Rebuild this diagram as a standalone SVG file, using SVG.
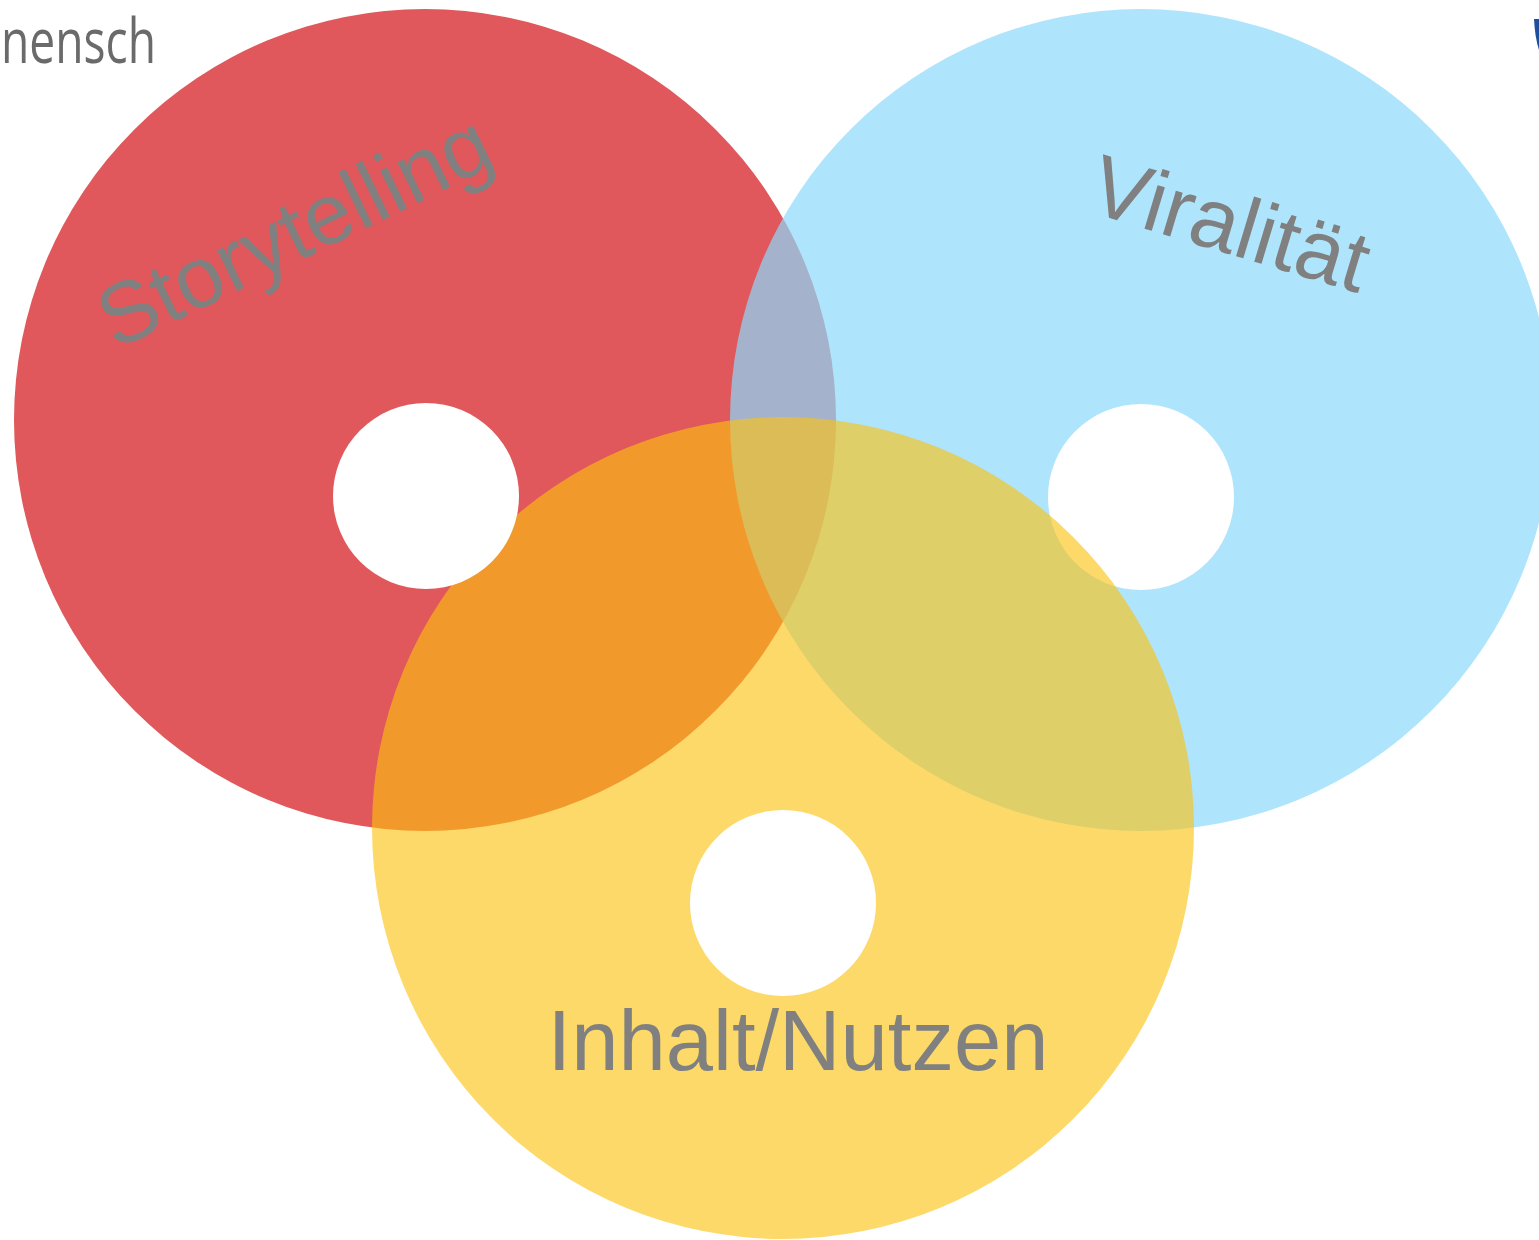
<svg xmlns="http://www.w3.org/2000/svg" width="1539" height="1240" viewBox="0 0 1539 1240">
<style>
.lbl{font-family:"Liberation Sans",Arial,sans-serif;fill:#808080;text-anchor:middle}
.hole{fill:#ffffff}
</style>
<rect width="1539" height="1240" fill="#ffffff"/>
<text x="1" y="63" font-family="Open Sans, sans-serif" font-size="63" fill="#6a6a6a" textLength="155" lengthAdjust="spacingAndGlyphs">nensch</text>
<path d="M1534,19 L1539,19 L1539,50 Q1535,38 1534,19 Z" fill="#1d4f9c"/>
<g id="storytelling">
<circle cx="425" cy="420" r="411" fill="#E0585B"/>
</g>
<g id="viralitaet">
<path d="M730,420 a411,411 0 1,0 822,0 a411,411 0 1,0 -822,0 Z M1048,497 a93,93 0 1,0 186,0 a93,93 0 1,0 -186,0 Z" fill="rgb(139,216,251)" fill-opacity="0.7" fill-rule="evenodd"/>
</g>
<g id="inhalt">
<path d="M372,828 a411,411 0 1,0 822,0 a411,411 0 1,0 -822,0 Z M690,903 a93,93 0 1,0 186,0 a93,93 0 1,0 -186,0 Z" fill="rgb(252,194,14)" fill-opacity="0.62" fill-rule="evenodd"/>
</g>
<circle class="hole" cx="426" cy="496" r="93"/>
<g id="labels">
<text class="lbl" font-size="86" transform="translate(307,257) rotate(-26)">Storytelling</text>
<text class="lbl" font-size="86" transform="translate(1222,252) rotate(16.8)">Viralität</text>
<text class="lbl" font-size="85" x="798" y="1070">Inhalt/Nutzen</text>
</g>
<g id="connectors"/>
</svg>
